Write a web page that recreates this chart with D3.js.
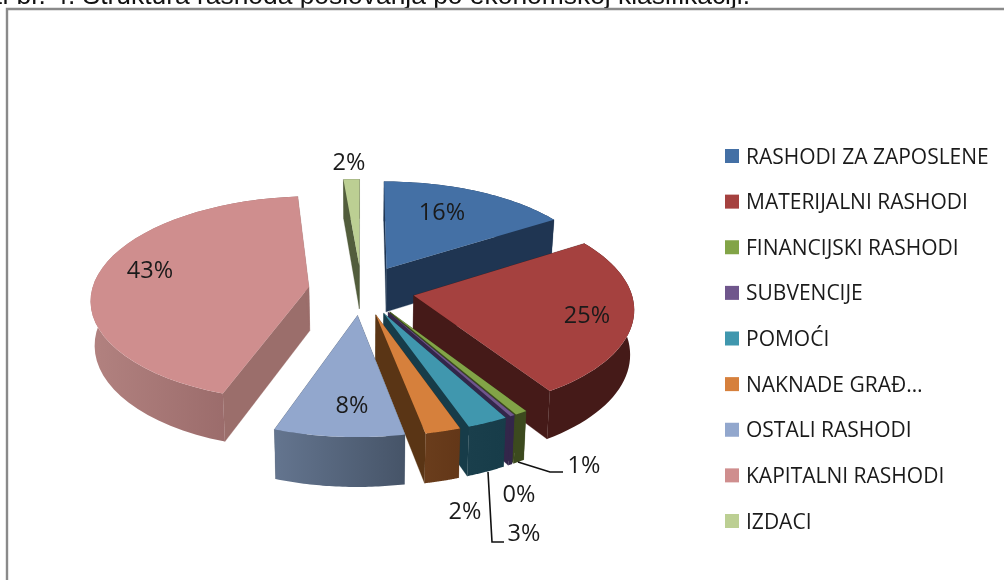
<!DOCTYPE html>
<html><head><meta charset="utf-8">
<script src="https://cdn.jsdelivr.net/npm/d3@7/dist/d3.min.js"></script>
<style>html,body{margin:0;padding:0;background:#fff;overflow:hidden}svg{display:block;filter:blur(.35px)}</style>
</head><body><div id="c"></div>
<script>
const categories=["RASHODI ZA ZAPOSLENE","MATERIJALNI RASHODI","FINANCIJSKI RASHODI","SUBVENCIJE","POMOĆI","NAKNADE GRAĐ…","OSTALI RASHODI","KAPITALNI RASHODI","IZDACI"];
const values=[16,24.9,0.8,0.3,2.65,2.3,8.4,43.3,1.35];
const valueLabels=["16%","25%","1%","0%","3%","2%","8%","43%","2%"];
const topColors=["#4470a5","#a5413f","#82a447","#6f568c","#4097ae","#d6803c","#92a7cd","#cf8e8e","#bccf93"];
const wallColors=["#1f3552","#451a18","#3c4a1e","#33264a","#173c49","#5a3515","#465468","#9b6e6b","#525d3c"];
const rimFrom=["#1f3552","#451a18","#3c4a1e","#33264a","#1a3f4c","#6a3d1c","#64758f","#b28280","#525d3c"];
const rimTo=["#1f3552","#451a18","#3c4a1e","#33264a","#173c49","#633718","#465468","#8f6060","#525d3c"];
const drawOrder=[8,0,7,1,2,3,4,5,6];
const labelPos=[[442,212],[587,315],[584,465],[519,494],[524,533],[465,511],[352,405],[150,270],[349,162]];
const leaders=[[[518,462],[550,472],[563,472]],[[488,472],[492,542],[504,542]]];

const W=1004,H=580;
const cx=361.5,cy=290,Rx=217,Ry=101.6,k=.113,explode=.245,depth=44,sx=.985,sy=1.04;
const svg=d3.select("#c").append("svg").attr("width",W).attr("height",H);
const defs=svg.append("defs");
const fontChart="'Open Sans',Lato,sans-serif";

svg.append("text").attr("x",750).attr("y",4).attr("text-anchor","end")
  .attr("font-family","'Liberation Sans',Arial,sans-serif").attr("font-size",26.4).attr("fill","#111")
  .text("Graf br. 4. Struktura rashoda poslovanja po ekonomskoj klasifikaciji.");
svg.append("path").attr("d",`M7,${H+5}V9H${W+5}`).attr("fill","none").attr("stroke","#8a8a8a").attr("stroke-width",2.4);

const pie=d3.pie().sort(null).value(d=>d)(values);

const topPt=(u,v)=>{const w=1+k*v;return [cx+Rx*u/w,cy-Ry*v/w];};
const botPt=(u,v)=>{const p=topPt(u,v);return [cx+(p[0]-cx)*sx,cy+depth+(p[1]-cy)*sy];};
const line=d3.line();

const gPie=svg.append("g");
drawOrder.forEach(i=>{
  const s=pie[i],mid=(s.startAngle+s.endAngle)/2;
  const ou=explode*Math.sin(mid),ov=explode*Math.cos(mid);
  const steps=d3.range(0,41).map(t=>s.startAngle+(s.endAngle-s.startAngle)*t/40);
  const rim=steps.map(a=>[ou+Math.sin(a),ov+Math.cos(a)]);
  const apexT=topPt(ou,ov),apexB=botPt(ou,ov);
  const rimT=rim.map(d=>topPt(d[0],d[1])),rimB=rim.map(d=>botPt(d[0],d[1]));
  const g=gPie.append("g").attr("class","slice");
  [[rimT[0],rimB[0]],[rimT[40],rimB[40]]].forEach(([a,b])=>{
    g.append("path").attr("d",line([apexT,a,b,apexB])+"Z").attr("fill",wallColors[i]).attr("stroke",wallColors[i]).attr("stroke-width",.3);
  });
  const xs=rimT.concat(rimB).map(d=>d[0]);
  const grad=defs.append("linearGradient").attr("id","rim"+i).attr("gradientUnits","userSpaceOnUse")
    .attr("x1",d3.min(xs)).attr("x2",d3.max(xs)).attr("y1",0).attr("y2",0);
  grad.append("stop").attr("offset",0).attr("stop-color",rimFrom[i]);
  grad.append("stop").attr("offset",1).attr("stop-color",rimTo[i]);
  g.append("path").attr("d",line(rimT.concat(rimB.slice().reverse()))+"Z").attr("fill",`url(#rim${i})`);
  g.append("path").attr("d",line([apexT].concat(rimT))+"Z").attr("fill",topColors[i]);
});

leaders.forEach(l=>svg.append("path").attr("d",line(l)).attr("fill","none").attr("stroke","#111").attr("stroke-width",1.6));

svg.append("g").selectAll("text").data(valueLabels).join("text")
  .attr("x",(d,i)=>labelPos[i][0]).attr("y",(d,i)=>labelPos[i][1]).attr("dy",".36em")
  .attr("text-anchor","middle").attr("font-family",fontChart).attr("font-size",23.5).attr("fill","#1a1a1a").text(d=>d);

const ly=d3.scalePoint().domain(categories).range([156,521]);
const lg=svg.append("g").selectAll("g").data(categories).join("g").attr("transform",d=>`translate(725,${ly(d)})`);
lg.append("rect").attr("y",-7).attr("width",14).attr("height",14).attr("fill",(d,i)=>topColors[i]);
lg.append("text").attr("x",21).attr("dy",".36em").attr("font-family",fontChart).attr("font-size",21).attr("fill","#1a1a1a").text(d=>d);
</script></body></html>
